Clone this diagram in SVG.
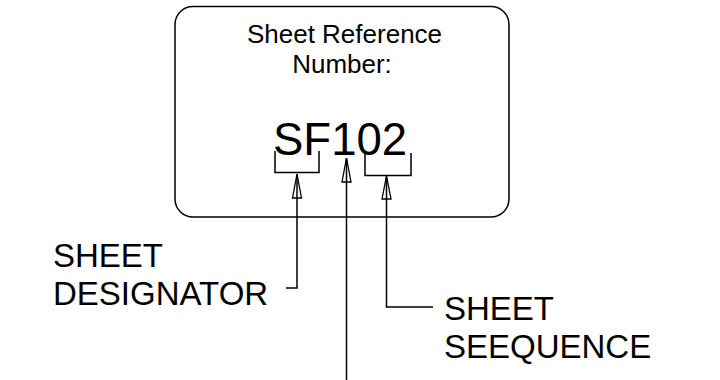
<svg xmlns="http://www.w3.org/2000/svg" width="720" height="380" viewBox="0 0 720 380">
<style>
text{font-family:"Liberation Sans",Arial,sans-serif;fill:#000}
.ln{fill:none;stroke:#000;stroke-width:1.5}
.ah{fill:#fff;stroke:#000;stroke-width:1.3}
</style>
<rect width="720" height="380" fill="#fff"/>
<g id="box">
<rect x="175" y="6.5" width="334" height="210.5" rx="18" class="ln"/>
<text x="344.5" y="43" font-size="26" text-anchor="middle">Sheet Reference</text>
<text x="342" y="73" font-size="26" text-anchor="middle">Number:</text>
<text x="273" y="155" font-size="45.5">SF102</text>
</g>
<g id="label-designator">
<text x="53" y="267" font-size="33">SHEET</text>
<text x="53" y="305" font-size="33">DESIGNATOR</text>
</g>
<g id="label-sequence">
<text x="444" y="320" font-size="33">SHEET</text>
<text x="444" y="358" font-size="33">SEEQUENCE</text>
</g>
<g id="connectors">
<polyline class="ln" points="275,151 275,172.5 319,172.5 319,151"/>
<polyline class="ln" points="365,153 365,175.5 411,175.5 411,153"/>
<polyline class="ln" points="286,288 297,288 297,174"/>
<polyline class="ln" points="433,307 386.5,307 386.5,176"/>
<line class="ln" x1="346.5" y1="380" x2="346.5" y2="158"/>
<path class="ah" d="M297,174 L292.5,198 L301.5,198 Z"/>
<path class="ah" d="M386.5,176 L382,199 L391,199 Z"/>
<path class="ah" d="M346.5,158 L342,182 L351,182 Z"/>
<line class="ln" x1="297" y1="198" x2="297" y2="176"/>
<line class="ln" x1="386.5" y1="199" x2="386.5" y2="178"/>
<line class="ln" x1="346.5" y1="182" x2="346.5" y2="160"/>
</g>
</svg>
